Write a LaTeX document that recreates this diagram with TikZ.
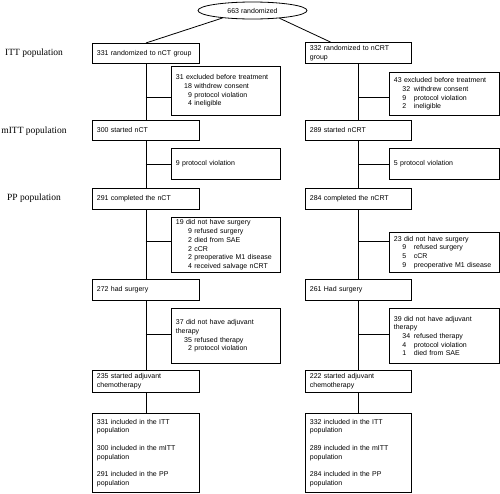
\documentclass[tikz,border=0pt]{standalone}
\usepackage{fontspec}
\setmainfont{Liberation Sans}
\newfontfamily\lblserif{Liberation Serif}
\usetikzlibrary{shapes.geometric}
\newcommand\boxfont{\fontsize{7}{8.7}\selectfont}
\newcommand\itemL[2]{\hspace*{8pt}\makebox[8pt][r]{#1}\hspace{2.5pt}#2}
\newcommand\itemR[2]{\hspace*{8.5pt}\makebox[9.5pt][l]{#1}\hspace{2pt}#2}
\begin{document}
\begin{tikzpicture}[x=1pt,y=-1pt,
  ln/.style={line width=0.8pt},
  bx/.style={draw, ln, inner xsep=4.5pt, inner ysep=0pt, align=left, font=\boxfont, anchor=north west},
  mainL/.style={bx, text width=98pt},
  mainR/.style={bx, text width=97pt},
  sideL/.style={bx, text width=100pt},
  sideR/.style={bx, text width=101pt},
  ellbox/.style={draw, ln, ellipse, minimum width=109pt, minimum height=17pt, inner sep=0pt, font=\boxfont},
  lbl/.style={font=\lblserif\fontsize{9.5}{11}\selectfont, inner sep=0pt}]
\useasboundingbox (0,0) rectangle (500,493);

% labels
\node[lbl] (lITT) at (34,53) {ITT population};
\node[lbl] (lmITT) at (34,131) {mITT population};
\node[lbl] (lPP) at (34,198) {PP population};

% top
\node[ellbox] (ell) at (252.5,10.5) {663 randomized};

% left main column
\node[mainL, minimum height=20pt] (ittL) at (92,43) {331 randomized to nCT group};
\node[mainL, minimum height=20pt] (mittL) at (92,120) {300 started nCT};
\node[mainL, minimum height=21pt] (ppL) at (92,188) {291 completed the nCT};
\node[mainL, minimum height=21pt] (surgL) at (92,279) {272 had surgery};
\node[mainL, minimum height=22pt] (adjcL) at (92,370) {235 started adjuvant\\chemotherapy};
\node[mainL, minimum height=79pt] (finL) at (92,413) {331 included in the ITT\\population\\[8.7pt]300 included in the mITT\\population\\[8.7pt]291 included in the PP\\population};

% right main column
\node[mainR, minimum height=21pt] (ittR) at (305,42) {332 randomized to nCRT\\group};
\node[mainR, minimum height=20pt] (mittR) at (305,120) {289 started nCRT};
\node[mainR, minimum height=21pt] (ppR) at (305,188) {284 completed the nCRT};
\node[mainR, minimum height=21pt] (surgR) at (305,279) {261 Had surgery};
\node[mainR, minimum height=22pt] (adjcR) at (305,370) {222 started adjuvant\\chemotherapy};
\node[mainR, minimum height=79pt] (finR) at (305,413) {332 included in the ITT\\population\\[8.7pt]289 included in the mITT\\population\\[8.7pt]284 included in the PP\\population};

% left side boxes
\node[sideL, minimum height=49pt] (exclL) at (171,66) {31 excluded before treatment\\\itemL{18}{withdrew consent}\\\itemL{9}{protocol violation}\\\itemL{4}{ineligible}};
\node[sideL, minimum height=31pt] (pvL) at (171,148) {9 protocol violation};
\node[sideL, minimum height=55pt] (nsL) at (171,217) {19 did not have surgery\\\itemL{9}{refused surgery}\\\itemL{2}{died from SAE}\\\itemL{2}{cCR}\\\itemL{2}{preoperative M1 disease}\\\itemL{4}{received salvage nCRT}};
\node[sideL, minimum height=55pt] (adjL) at (171,308) {37 did not have adjuvant\\therapy\\\itemL{35}{refused therapy}\\\itemL{2}{protocol violation}};

% right side boxes
\node[sideR, minimum height=43pt] (exclR) at (389,72) {43 excluded before treatment\\\itemR{32}{withdrew consent}\\\itemR{9}{protocol violation}\\\itemR{2}{ineligible}};
\node[sideR, minimum height=31pt] (pvR) at (389,148) {5 protocol violation};
\node[sideR, minimum height=40pt] (nsR) at (389,232) {23 did not have surgery\\\itemR{9}{refused surgery}\\\itemR{5}{cCR}\\\itemR{9}{preoperative M1 disease}};
\node[sideR, minimum height=55pt] (adjR) at (389,308) {39 did not have adjuvant\\therapy\\\itemR{34}{refused therapy}\\\itemR{4}{protocol violation}\\\itemR{1}{died from SAE}};

% connectors from ellipse
\draw[ln] (ell.194) -- (ittL.north);
\draw[ln] (ell.344) -- ([xshift=-28pt]ittR.north);

% vertical chains
\draw[ln] (ittL.south) -- (mittL.north);
\draw[ln] (mittL.south) -- (ppL.north);
\draw[ln] (ppL.south) -- (surgL.north);
\draw[ln] (surgL.south) -- (adjcL.north);
\draw[ln] (adjcL.south) -- (finL.north);
\draw[ln] (ittR.south) -- (mittR.north);
\draw[ln] (mittR.south) -- (ppR.north);
\draw[ln] (ppR.south) -- (surgR.north);
\draw[ln] (surgR.south) -- (adjcR.north);
\draw[ln] (adjcR.south) -- (finR.north);

% branch junctions
\coordinate (j1L) at (145.5,97);
\coordinate (j2L) at (145.5,164);
\coordinate (j3L) at (145.5,241);
\coordinate (j4L) at (145.5,334);
\coordinate (j1R) at (358,97);
\coordinate (j2R) at (358,164);
\coordinate (j3R) at (358,241);
\coordinate (j4R) at (358,334);
\draw[ln] (j1L) -- (exclL.west |- j1L);
\draw[ln] (j2L) -- (pvL.west |- j2L);
\draw[ln] (j3L) -- (nsL.west |- j3L);
\draw[ln] (j4L) -- (adjL.west |- j4L);
\draw[ln] (j1R) -- (exclR.west |- j1R);
\draw[ln] (j2R) -- (pvR.west |- j2R);
\draw[ln] (j3R) -- (nsR.west |- j3R);
\draw[ln] (j4R) -- (adjR.west |- j4R);
\end{tikzpicture}
\end{document}
